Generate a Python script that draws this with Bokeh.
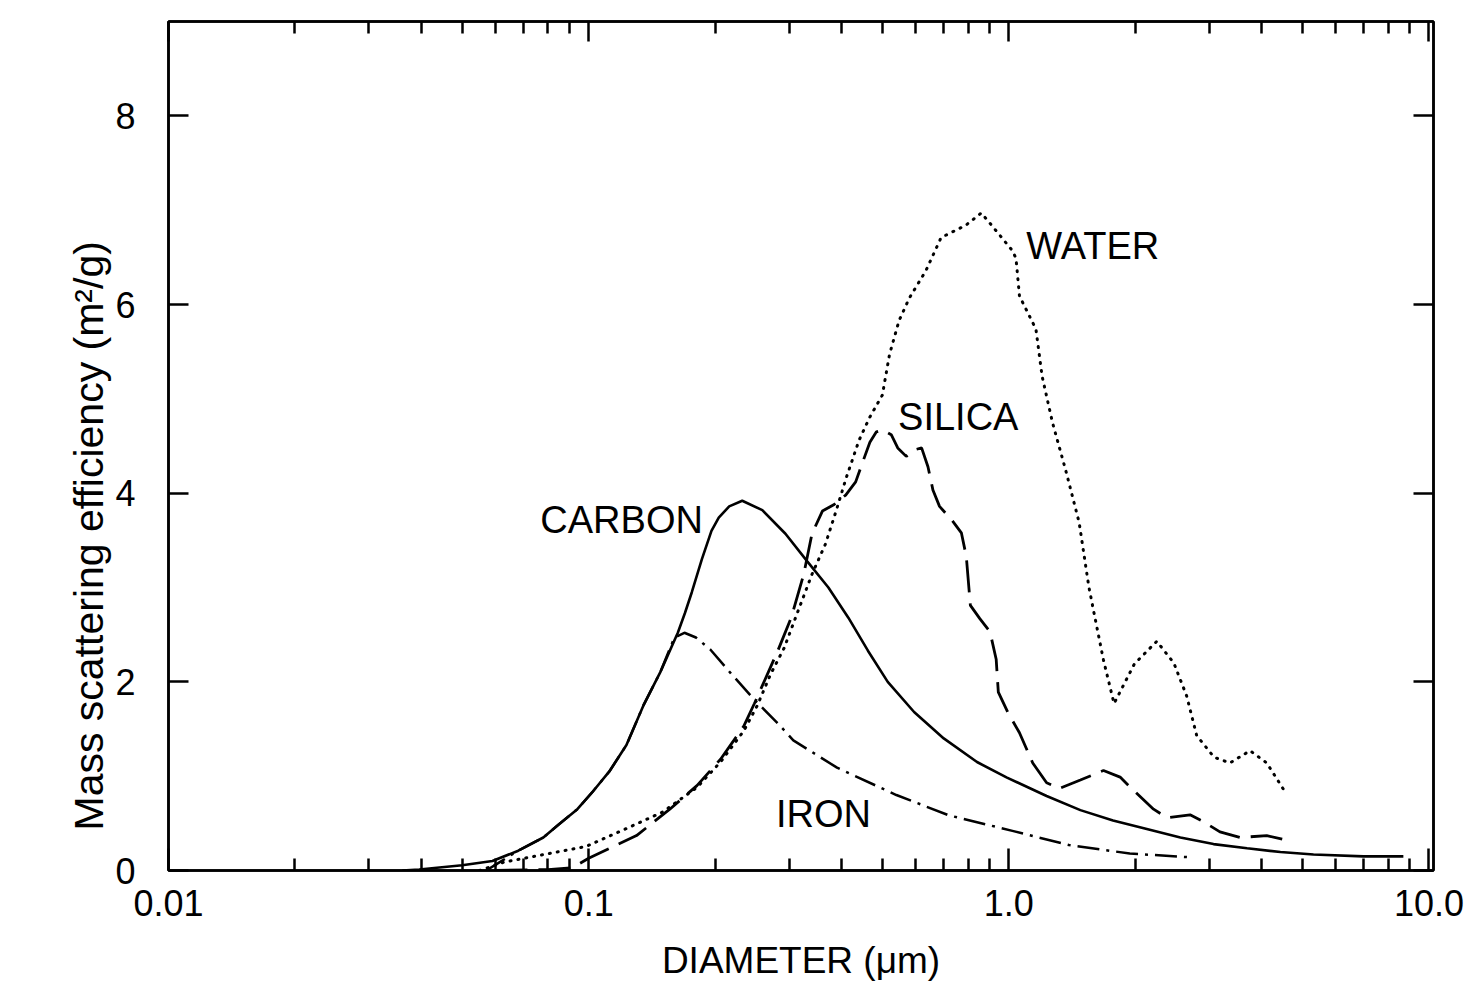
from bokeh.plotting import figure
from bokeh.models import (LogAxis, LinearAxis, FixedTicker, Range1d, Label, Title,
                          CustomJSTickFormatter)
from bokeh.embed import file_html
from bokeh.resources import INLINE

# Particle diameter (um) and mass scattering efficiency (m^2/g) for each material
carbon_d = [0.036, 0.0395, 0.050, 0.059, 0.068, 0.078, 0.085, 0.094, 0.102, 0.112,
            0.123, 0.135, 0.148, 0.163, 0.1695, 0.176, 0.186, 0.196, 0.204, 0.216,
            0.232, 0.259, 0.294, 0.331, 0.372, 0.415, 0.462, 0.515, 0.595, 0.70,
            0.84, 0.99, 1.23, 1.48, 1.77, 2.13, 2.56, 3.07, 3.69, 4.43, 5.31, 6.98, 8.69]
carbon_v = [0.0, 0.01, 0.055, 0.10, 0.21, 0.35, 0.49, 0.65, 0.83, 1.05,
            1.33, 1.75, 2.10, 2.52, 2.73, 2.95, 3.30, 3.60, 3.74, 3.86,
            3.92, 3.82, 3.57, 3.28, 3.00, 2.68, 2.33, 2.00, 1.68, 1.40,
            1.15, 0.985, 0.79, 0.64, 0.53, 0.44, 0.35, 0.28, 0.235, 0.196, 0.17, 0.15, 0.15]

iron_d = [0.057, 0.062, 0.068, 0.078, 0.085, 0.094, 0.102, 0.112, 0.123, 0.135,
          0.148, 0.160, 0.169, 0.18, 0.195, 0.218, 0.248, 0.282, 0.307, 0.39,
          0.54, 0.72, 1.02, 1.39, 1.94, 2.7]
iron_v = [0.0, 0.1, 0.21, 0.35, 0.49, 0.65, 0.83, 1.05, 1.33, 1.75,
          2.10, 2.47, 2.52, 2.47, 2.34, 2.09, 1.81, 1.56, 1.38, 1.09,
          0.80, 0.585, 0.42, 0.27, 0.18, 0.14]

silica_d = [0.06, 0.08, 0.0915, 0.10, 0.13, 0.156, 0.181, 0.206, 0.234, 0.248,
            0.282, 0.304, 0.325, 0.34, 0.36, 0.384, 0.409, 0.432, 0.449, 0.467,
            0.484, 0.501, 0.525, 0.544, 0.57, 0.597, 0.62, 0.642, 0.66, 0.684,
            0.73, 0.771, 0.792, 0.81, 0.853, 0.902, 0.933, 0.944, 0.996, 1.06,
            1.14, 1.23, 1.32, 1.48, 1.68, 1.84, 1.98, 2.21, 2.38, 2.70,
            2.90, 3.18, 3.55, 4.11, 4.59]
silica_v = [0.0, 0.01, 0.03, 0.13, 0.37, 0.65, 0.90, 1.18, 1.53, 1.77,
            2.33, 2.69, 3.14, 3.57, 3.81, 3.88, 3.98, 4.12, 4.33, 4.54,
            4.65, 4.67, 4.62, 4.48, 4.39, 4.46, 4.48, 4.28, 4.03, 3.86,
            3.72, 3.58, 3.33, 2.81, 2.67, 2.53, 2.24, 1.89, 1.67, 1.46,
            1.14, 0.93, 0.87, 0.96, 1.06, 0.99, 0.85, 0.65, 0.56, 0.59,
            0.52, 0.41, 0.35, 0.37, 0.32]

water_d = [0.055, 0.063, 0.0986, 0.123, 0.150, 0.181, 0.206, 0.234, 0.252, 0.271,
           0.292, 0.315, 0.34, 0.366, 0.388, 0.41, 0.44, 0.466, 0.50, 0.52,
           0.548, 0.58, 0.635, 0.69, 0.79, 0.86, 0.91, 1.02, 1.04, 1.06,
           1.16, 1.20, 1.27, 1.37, 1.47, 1.55, 1.59, 1.68, 1.78, 1.99,
           2.25, 2.47, 2.65, 2.80, 3.08, 3.36, 3.75, 4.11, 4.52]
water_v = [0.0, 0.09, 0.255, 0.445, 0.62, 0.88, 1.15, 1.48, 1.75, 2.08,
           2.36, 2.75, 3.14, 3.46, 3.81, 4.16, 4.56, 4.80, 5.04, 5.47,
           5.83, 6.07, 6.36, 6.71, 6.84, 6.97, 6.84, 6.57, 6.49, 6.09,
           5.74, 5.24, 4.75, 4.22, 3.69, 3.01, 2.76, 2.23, 1.77, 2.19,
           2.43, 2.20, 1.85, 1.43, 1.20, 1.14, 1.27, 1.14, 0.85]

x_ticks = [0.01, 0.1, 1.0, 10.0]
x_tick_labels = ["0.01", "0.1", "1.0", "10.0"]
x_minor_ticks = [m * 10.0 ** e for e in (-2, -1, 0) for m in range(2, 10)]
y_ticks = [0, 2, 4, 6, 8]

x_title = "DIAMETER (μm)"
y_title = "Mass scattering efficiency (m²/g)"

FONT = "Liberation Sans"

p = figure(width=1478, height=983, x_axis_type="log",
           x_range=Range1d(0.01, 10.25), y_range=Range1d(0, 9),
           output_backend="svg", toolbar_location=None,
           min_border_left=168, min_border_right=45,
           min_border_top=21, min_border_bottom=113)
p.xgrid.visible = False
p.ygrid.visible = False
p.outline_line_color = "black"
p.outline_line_width = 2.5
p.background_fill_color = "white"
p.border_fill_color = "white"

# Curves
p.line(carbon_d, carbon_v, line_color="black", line_width=2.6)
p.line(iron_d, iron_v, line_color="black", line_width=2.5, line_dash="22 7 3 7")
p.line(silica_d, silica_v, line_color="black", line_width=2.8, line_dash="32 11")
p.line(water_d, water_v, line_color="black", line_width=3, line_dash="1 7",
       line_cap="round")

# Curve names
for txt, x, y, align in [("CARBON", 0.187, 3.72, "right"),
                         ("SILICA", 0.545, 4.81, "left"),
                         ("WATER", 1.10, 6.62, "left"),
                         ("IRON", 0.279, 0.60, "left")]:
    p.add_layout(Label(x=x, y=y, text=txt, text_align=align, text_baseline="middle",
                       text_font=FONT, text_font_size="38px", text_color="black"))

label_fmt = CustomJSTickFormatter(args=dict(vals=x_ticks, labs=x_tick_labels), code="""
    for (let i = 0; i < vals.length; i++) {
        if (Math.abs(Math.log10(tick) - Math.log10(vals[i])) < 1e-6) return labs[i];
    }
    return "";
""")


def style_axis(ax, show_labels, major_len, minor_len):
    ax.axis_line_width = 2.5
    ax.axis_line_color = "black"
    ax.major_tick_line_color = "black"
    ax.minor_tick_line_color = "black"
    ax.major_tick_line_width = 2.5
    ax.minor_tick_line_width = 2.5
    ax.major_tick_in = major_len
    ax.major_tick_out = 0
    ax.minor_tick_in = minor_len
    ax.minor_tick_out = 0
    if show_labels:
        ax.major_label_text_font = FONT
        ax.major_label_text_font_size = "36px"
        ax.major_label_text_color = "black"
    else:
        ax.major_label_text_font_size = "1px"
        ax.major_label_text_color = None
        ax.major_label_standoff = 0


# Bottom and top log axes
xb = p.xaxis[0]
xb.ticker = FixedTicker(ticks=x_ticks, minor_ticks=x_minor_ticks)
xb.formatter = label_fmt
style_axis(xb, True, 22, 12)
xb.major_label_standoff = 19
xb.axis_label = x_title
xb.axis_label_text_font = FONT
xb.axis_label_text_font_size = "37px"
xb.axis_label_text_font_style = "normal"
xb.axis_label_text_color = "black"
xb.axis_label_standoff = 21

xt = LogAxis(ticker=FixedTicker(ticks=x_ticks, minor_ticks=x_minor_ticks))
style_axis(xt, False, 20, 12)
p.add_layout(xt, "above")

# Left and right linear axes
yl = p.yaxis[0]
yl.ticker = FixedTicker(ticks=y_ticks, minor_ticks=[])
style_axis(yl, True, 20, 0)
yl.major_label_standoff = 33

yr = LinearAxis(ticker=FixedTicker(ticks=y_ticks, minor_ticks=[]))
style_axis(yr, False, 20, 0)
p.add_layout(yr, "right")

# Blank strip between the tick labels and the vertical title: an axis with
# no ticks whose outward tick length reserves the space
gap = LinearAxis(ticker=FixedTicker(ticks=[], minor_ticks=[]))
style_axis(gap, False, 0, 0)
gap.axis_line_color = None
gap.major_tick_out = 51
p.add_layout(gap, "left")

# Vertical title for the efficiency axis
p.add_layout(Title(text=y_title, align="left", offset=40, standoff=0,
                   vertical_align="middle", text_font=FONT, text_font_size="41px",
                   text_font_style="normal", text_color="black"), "left")

open("out.html", "w").write(file_html(p, INLINE))
